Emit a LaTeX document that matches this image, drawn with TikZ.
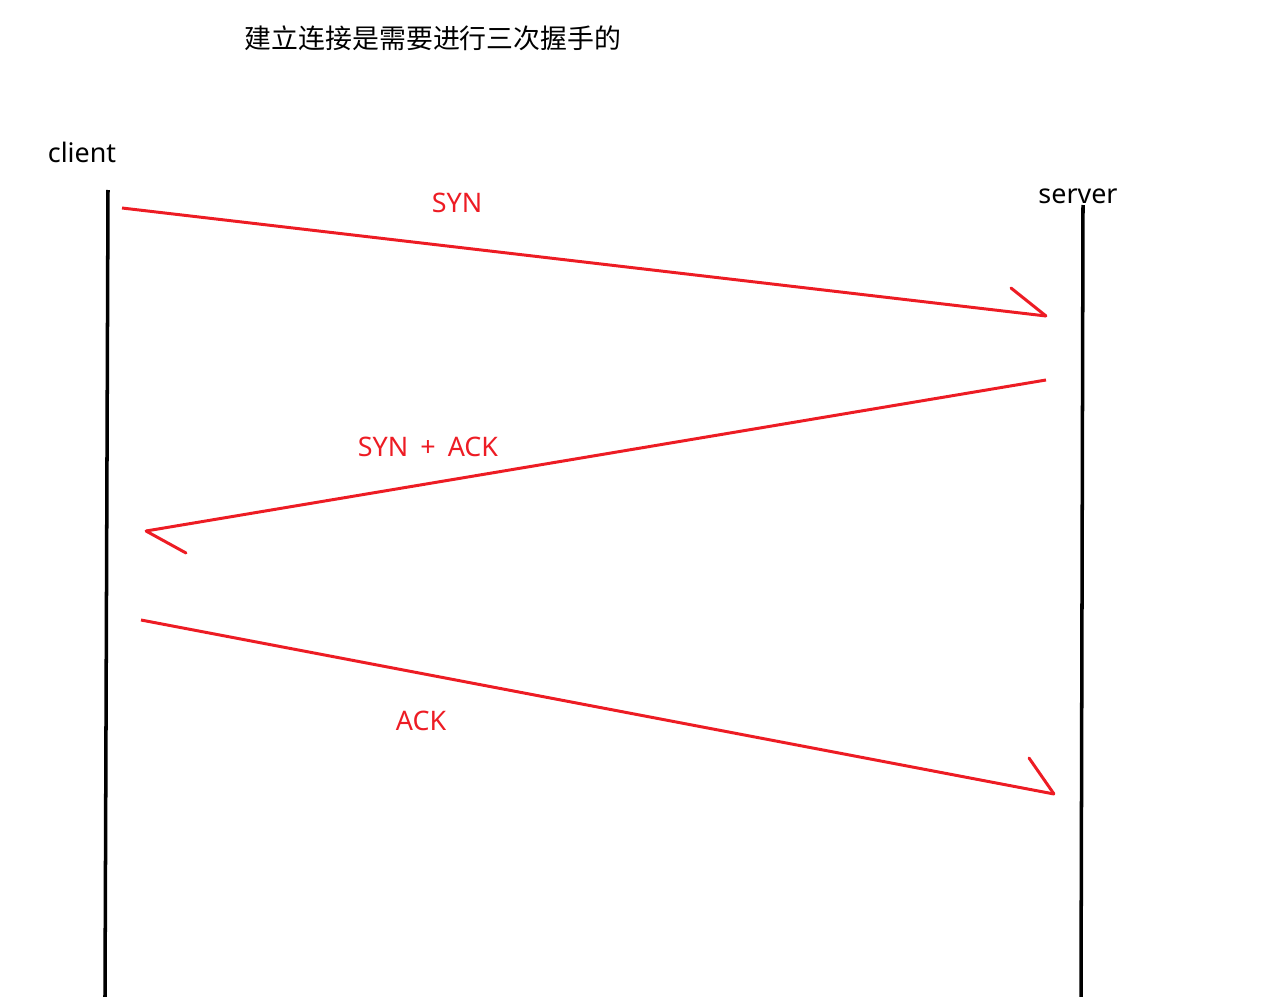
\documentclass[tikz,border=0pt]{standalone}
\usepackage{fontspec}
\setmainfont{Noto Sans}
\newfontfamily\cjk{Noto Sans CJK SC}
\usetikzlibrary{positioning}
\definecolor{paintred}{RGB}{237,28,36}

\begin{document}
\begin{tikzpicture}[x=0.02cm, y=-0.02cm,
    txt/.style={font=\fontsize{15.3}{18}\selectfont, inner sep=0pt},
    redtxt/.style={txt, text=paintred},
    lifeline/.style={line width=2pt, black},
    msg/.style={line width=1.7pt, paintred},
    barb/.style={line width=1.7pt, paintred, line cap=round}
]
\useasboundingbox (0,0) rectangle (1261,997);

% Title and actors
\node[txt, font=\cjk\fontsize{15.3}{18}\selectfont] (title) at (433, 38) {建立连接是需要进行三次握手的};
\node[txt] (client) at (82, 152) {client};
\node[txt] (server) at (1078, 196) {server};

% Lifelines
\coordinate (ctop) at (108, 190);
\coordinate (cbot) at (105, 997);
\coordinate (stop) at (1083, 205);
\coordinate (sbot) at (1081, 997);
\draw[lifeline] (ctop) -- (cbot);
\draw[lifeline] (stop) -- (sbot);

% Message end points
\coordinate (syn1) at (122, 208);
\coordinate (syn2) at (1046, 316);
\coordinate (synb) at (1011, 288);
\coordinate (sa1) at (1046, 380);
\coordinate (sa2) at (146, 531);
\coordinate (sab) at (186, 553);
\coordinate (ack1) at (141, 620);
\coordinate (ack2) at (1054, 794);
\coordinate (ackb) at (1029, 758);

% Messages
\draw[msg] (syn1) -- (syn2);
\draw[barb] (synb) -- (syn2);
\draw[msg] (sa1) -- (sa2);
\draw[barb] (sab) -- (sa2);
\draw[msg] (ack1) -- (ack2);
\draw[barb] (ackb) -- (ack2);

% Labels
\node[redtxt] (synlbl) at (457, 203) {SYN};
\node[redtxt] (salbl) at (428, 447) {SYN\hspace{0.45em}+\hspace{0.45em}ACK};
\node[redtxt] (acklbl) at (421, 721) {ACK};

\end{tikzpicture}
\end{document}
